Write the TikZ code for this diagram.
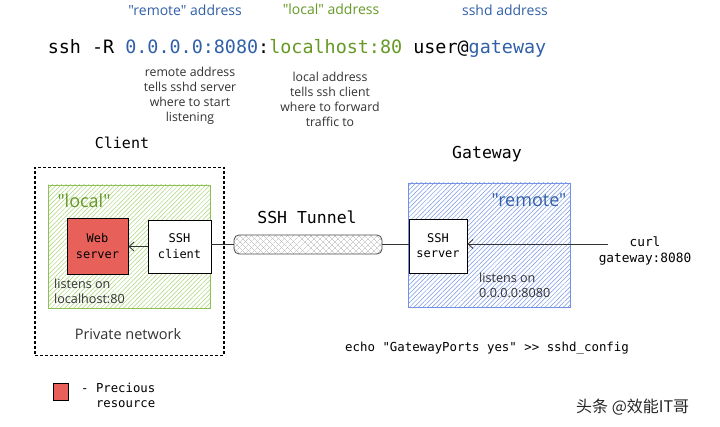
\documentclass[tikz,border=0pt]{standalone}
\usepackage{fontspec}
\setmainfont{Open Sans}
\setmonofont{DejaVu Sans Mono}
\newfontfamily\handf{Open Sans}
\newfontfamily\cjkf{Noto Sans CJK SC}
\usetikzlibrary{patterns.meta,arrows.meta}
\definecolor{blueT}{RGB}{49,96,168}
\definecolor{greenT}{RGB}{102,153,38}
\definecolor{handC}{RGB}{50,50,50}
\definecolor{greenB}{RGB}{140,195,80}
\definecolor{greenH}{RGB}{170,212,120}
\definecolor{blueB}{RGB}{115,145,230}
\definecolor{blueH}{RGB}{120,150,230}
\definecolor{redF}{RGB}{232,96,90}
\begin{document}
\begin{tikzpicture}[x=1pt,y=-1pt,
  hand/.style={font=\handf\fontsize{12.3}{15}\selectfont, text=handC, align=center, inner sep=0pt},
  handl/.style={hand, font=\handf\fontsize{12.6}{15}\selectfont, align=left},
  hdr/.style={font=\handf\fontsize{14}{16}\selectfont, inner sep=0pt},
  title/.style={font=\ttfamily\fontsize{15}{18}\selectfont, inner sep=0pt},
  boxtxt/.style={font=\ttfamily\fontsize{12}{16}\selectfont, align=center, inner sep=0pt},
  plainbox/.style={draw=black, line width=0.9pt, fill=white},
  arr/.style={draw=black!80, line width=0.8pt, -{Straight Barb[length=5pt,width=9pt]}},
  conn/.style={draw=black!80, line width=0.8pt}
]
\useasboundingbox (0,0) rectangle (720,427);
\fill[white] (0,0) rectangle (720,427);

% header labels
\node[hdr, text=blueT] (hremote) at (185,10) {"remote" address};
\node[hdr, text=greenT] (hlocal) at (331,9) {"local" address};
\node[hdr, text=blueT] (hsshd) at (505,10) {sshd address};

% command
\node[font=\ttfamily\fontsize{18.4}{22}\selectfont, inner sep=0pt] (cmd) at (297,48)
  {ssh -R \textcolor{blueT}{0.0.0.0:8080}:\textcolor{greenT}{localhost:80} user@\textcolor{blueT}{gateway}};

% notes
\node[hand] (nremote) at (190,96) {remote address\\tells sshd server\\where to start\\listening};
\node[hand] (nlocal) at (330,99) {local address\\tells ssh client\\where to forward\\traffic to};

% client side
\node[title] (tclient) at (122,143) {Client};
\node[draw=black, line width=1.1pt, dash pattern=on 3pt off 2pt, minimum width=189pt, minimum height=188pt, inner sep=0pt] (priv) at (129.5,261.5) {};
\node[draw=greenB, line width=0.8pt, preaction={fill=white},
      pattern={Lines[angle=45,distance=3.2pt,line width=0.5pt]}, pattern color=greenH,
      minimum width=162pt, minimum height=123pt, inner sep=0pt] (lbox) at (129,246.5) {};
\node[font=\handf\fontsize{18}{20}\selectfont, text=greenT, inner sep=0pt] (llocal) at (84,201) {"local"};
\node[plainbox, fill=redF, minimum width=61pt, minimum height=56pt, inner sep=0pt] (web) at (97.5,246.5) {};
\node[boxtxt] at (web.center) {Web\\server};
\node[plainbox, minimum width=63pt, minimum height=53pt, inner sep=0pt] (sshc) at (179.5,246.5) {};
\node[boxtxt] at (sshc.center) {SSH\\client};
\node[handl, anchor=west] (lis1) at (54,291) {listens on\\localhost:80};
\node[hand, font=\handf\fontsize{14.5}{16}\selectfont] (pnet) at (128,334) {Private network};
\draw[arr] (sshc.west) -- (web.east);

% tunnel
\node[title, font=\ttfamily\fontsize{16.5}{18}\selectfont] (ttun) at (307,217) {SSH Tunnel};
\node[draw=black!70, line width=0.8pt, rounded corners=5pt,
      preaction={fill=white},
      preaction={pattern={Lines[angle=45,distance=4pt,line width=0.4pt]}, pattern color=black!30},
      pattern={Lines[angle=-45,distance=4pt,line width=0.4pt]}, pattern color=black!30,
      minimum width=148pt, minimum height=19pt, inner sep=0pt] (tun) at (308,244.5) {};
\draw[conn] (sshc.east |- tun.west) -- (tun.west);

% gateway side
\node[title, font=\ttfamily\fontsize{16.5}{18}\selectfont] (tgw) at (487,154) {Gateway};
\node[draw=blueB, line width=0.8pt, preaction={fill=white},
      pattern={Lines[angle=45,distance=3.2pt,line width=0.5pt]}, pattern color=blueH,
      minimum width=162pt, minimum height=124pt, inner sep=0pt] (rbox) at (489,245) {};
\node[font=\handf\fontsize{18}{20}\selectfont, text=blueT, inner sep=0pt] (rremote) at (529,200) {"remote"};
\node[plainbox, minimum width=58pt, minimum height=54pt, inner sep=0pt] (sshs) at (438,246) {};
\node[boxtxt, font=\ttfamily\fontsize{12}{15}\selectfont] at (sshs.center) {SSH\\server};
\draw[conn] (tun.east) -- (sshs.west |- tun.east);
\node[handl, anchor=west] (lis2) at (479,285) {listens on\\0.0.0.0:8080};
\node[font=\ttfamily\fontsize{12.8}{16}\selectfont, align=center, inner sep=0pt] (curl) at (645,251) {curl\\gateway:8080};
\coordinate (curlin) at (608,244);
\draw[arr] (curlin) -- (sshs.east |- curlin);

% echo
\node[font=\ttfamily\fontsize{12.4}{15}\selectfont, inner sep=0pt, anchor=west] (echo) at (345,348) {echo "GatewayPorts yes" >> sshd\_config};

% legend
\node[draw=black, line width=0.9pt, fill=redF, minimum width=15pt, minimum height=17pt, inner sep=0pt] (leg) at (60.5,391.5) {};
\node[font=\ttfamily\fontsize{12.3}{15}\selectfont, align=left, inner sep=0pt, anchor=north west] (legt) at (81,383) {- Precious\\\phantom{- }resource};

% watermark
\node[font=\cjkf\fontsize{16}{18}\selectfont, text=black!85, inner sep=0pt, anchor=west] (wm) at (576,407) {头条 @效能IT哥};
\end{tikzpicture}
\end{document}
